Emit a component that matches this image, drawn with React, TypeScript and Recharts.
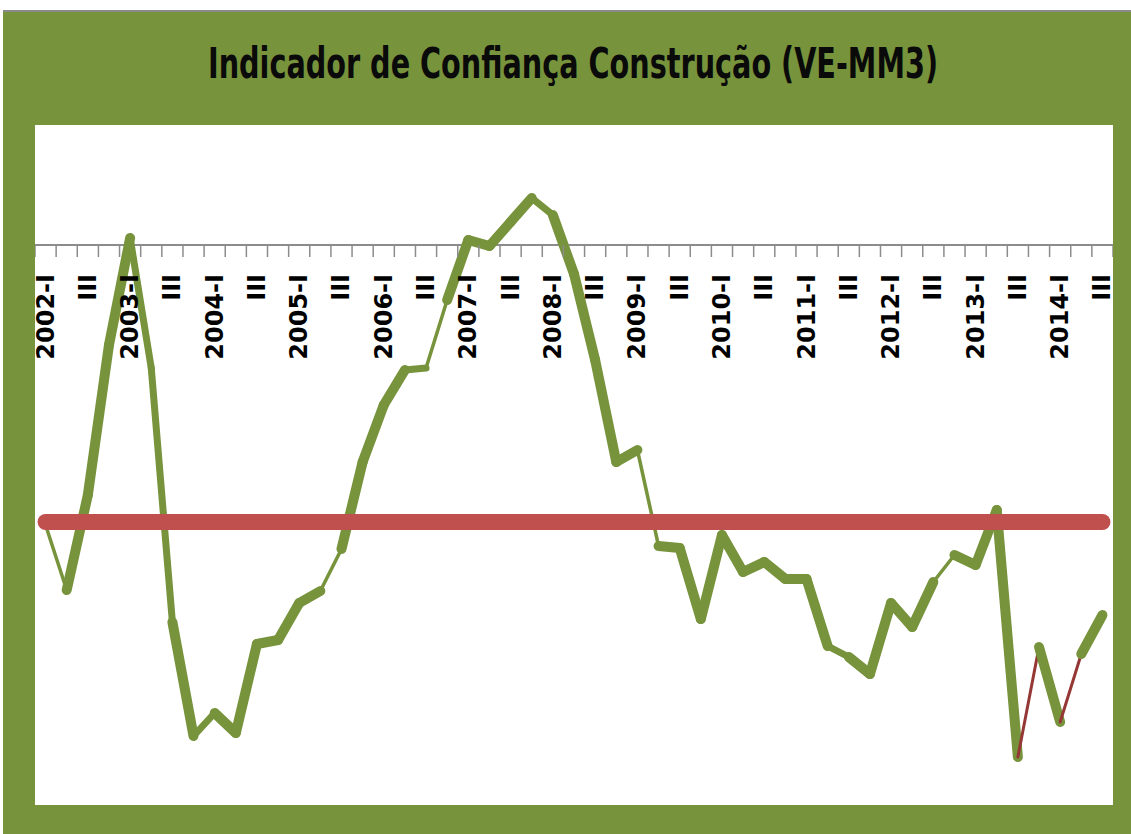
import { LineChart, Line, XAxis, YAxis, ReferenceLine } from "recharts";

// quarters 2002-I .. 2014-III
const QUARTERS = [
  "2002-I", "II", "III", "IV",
  "2003-I", "II", "III", "IV",
  "2004-I", "II", "III", "IV",
  "2005-I", "II", "III", "IV",
  "2006-I", "II", "III", "IV",
  "2007-I", "II", "III", "IV",
  "2008-I", "II", "III", "IV",
  "2009-I", "II", "III", "IV",
  "2010-I", "II", "III", "IV",
  "2011-I", "II", "III", "IV",
  "2012-I", "II", "III", "IV",
  "2013-I", "II", "III", "IV",
  "2014-I", "II", "III",
];

const VALUES = [
  -28.0, -34.5, -25.0, -10.0, 0.7, -12.3, -37.7, -49.1, -46.8, -48.8,
  -39.9, -39.5, -35.8, -34.6, -30.4, -21.7, -16.0, -12.5, -12.3, -5.5,
  0.5, -0.1, 2.3, 4.7, 3.0, -2.9, -11.5, -21.7, -20.5, -30.1,
  -30.3, -37.4, -29.0, -32.7, -31.7, -33.4, -33.4, -40.1, -41.2, -42.9,
  -35.8, -38.2, -33.7, -31.0, -32.0, -26.5, -51.2, -40.2, -47.7, -40.9,
  -37.0,
];

const MEDIA = -27.7;

// segment i joins quarter i and i+1
const THIN_SEGS = [0, 13, 18, 28, 42];
const MEDIUM_SEGS = [4, 5, 7, 17, 23, 37];
const DARK_SEGS = [46, 48];

const GREEN = "#77933C";
const RED = "#C0504D";
const DARK_RED = "#953735";
const AXIS_GRAY = "#8C8C8C";

const W = 1078;
const H = 680;
const X_AXIS_H = 2;
const Y_MIN = -56;
const Y_MAX = 12;
const BAND = W / QUARTERS.length;
const AXIS_Y = (H * Y_MAX) / (Y_MAX - Y_MIN);

const segCount = VALUES.length - 1;

const data = QUARTERS.map((q, j) => {
  const row: Record<string, string | number | null> = { q, media: MEDIA };
  for (let i = 0; i < segCount; i++) {
    row[`s${i}`] = j === i || j === i + 1 ? VALUES[j] : null;
  }
  return row;
});

function segWidth(i: number) {
  if (DARK_SEGS.includes(i)) return 3;
  if (THIN_SEGS.includes(i)) return 3.5;
  if (MEDIUM_SEGS.includes(i)) return 7;
  return 10;
}

function QuarterTick(props: any) {
  const { x, index, payload } = props;
  const half = BAND / 2;
  return (
    <g>
      {index === 0 && (
        <line x1={x - half} y1={AXIS_Y} x2={x - half} y2={AXIS_Y + 12} stroke={AXIS_GRAY} strokeWidth={1.5} />
      )}
      <line x1={x + half} y1={AXIS_Y} x2={x + half} y2={AXIS_Y + 12} stroke={AXIS_GRAY} strokeWidth={1.5} />
      {index % 2 === 0 && (
        <text
          transform={`translate(${x}, ${AXIS_Y + 29}) rotate(-90)`}
          textAnchor="end"
          dominantBaseline="central"
          fontFamily="DejaVu Sans"
          fontWeight="bold"
          fontSize={24}
          fill="#000"
        >
          {payload.value}
        </text>
      )}
    </g>
  );
}

export default function App() {
  return (
    <div style={{ position: "absolute", left: 0, top: 0, width: 1131, height: 834, background: "#fff", overflow: "hidden" }}>
      <div style={{ position: "absolute", left: 3, top: 10, right: 0, bottom: 0, background: GREEN, borderTop: "2px solid #8a8a8a" }} />
      <svg width={1131} height={125} style={{ position: "absolute", left: 0, top: 0 }}>
        <text
          transform="translate(573, 78) scale(1, 1.35)"
          textAnchor="middle"
          textLength={730}
          lengthAdjust="spacingAndGlyphs"
          fontFamily="'DejaVu Sans Condensed', 'Liberation Sans', sans-serif"
          fontWeight="bold"
          fontSize={32}
          fill="#0a0a0a"
        >
          Indicador de Confiança Construção (VE-MM3)
        </text>
      </svg>
      <div style={{ position: "absolute", left: 35, top: 125, width: W, height: H, background: "#fff" }}>
        <LineChart
          width={W}
          height={H + X_AXIS_H}
          data={data}
          margin={{ top: 0, right: 0, bottom: 0, left: 0 }}
          style={{ overflow: "visible" }}
        >
          <XAxis
            dataKey="q"
            height={X_AXIS_H}
            interval={0}
            axisLine={false}
            tickLine={false}
            padding={{ left: BAND / 2, right: BAND / 2 }}
            tick={<QuarterTick />}
          />
          <YAxis hide domain={[Y_MIN, Y_MAX]} />
          <ReferenceLine y={0} stroke={AXIS_GRAY} strokeWidth={2} />
          {VALUES.slice(0, segCount).map((_, i) => (
            <Line
              key={`s${i}`}
              dataKey={`s${i}`}
              stroke={DARK_SEGS.includes(i) ? DARK_RED : GREEN}
              strokeWidth={segWidth(i)}
              strokeLinecap="round"
              strokeLinejoin="round"
              dot={false}
              activeDot={false}
              isAnimationActive={false}
            />
          ))}
          <Line
            dataKey="media"
            stroke={RED}
            strokeWidth={16}
            strokeLinecap="round"
            dot={false}
            activeDot={false}
            isAnimationActive={false}
          />
        </LineChart>
      </div>
    </div>
  );
}
